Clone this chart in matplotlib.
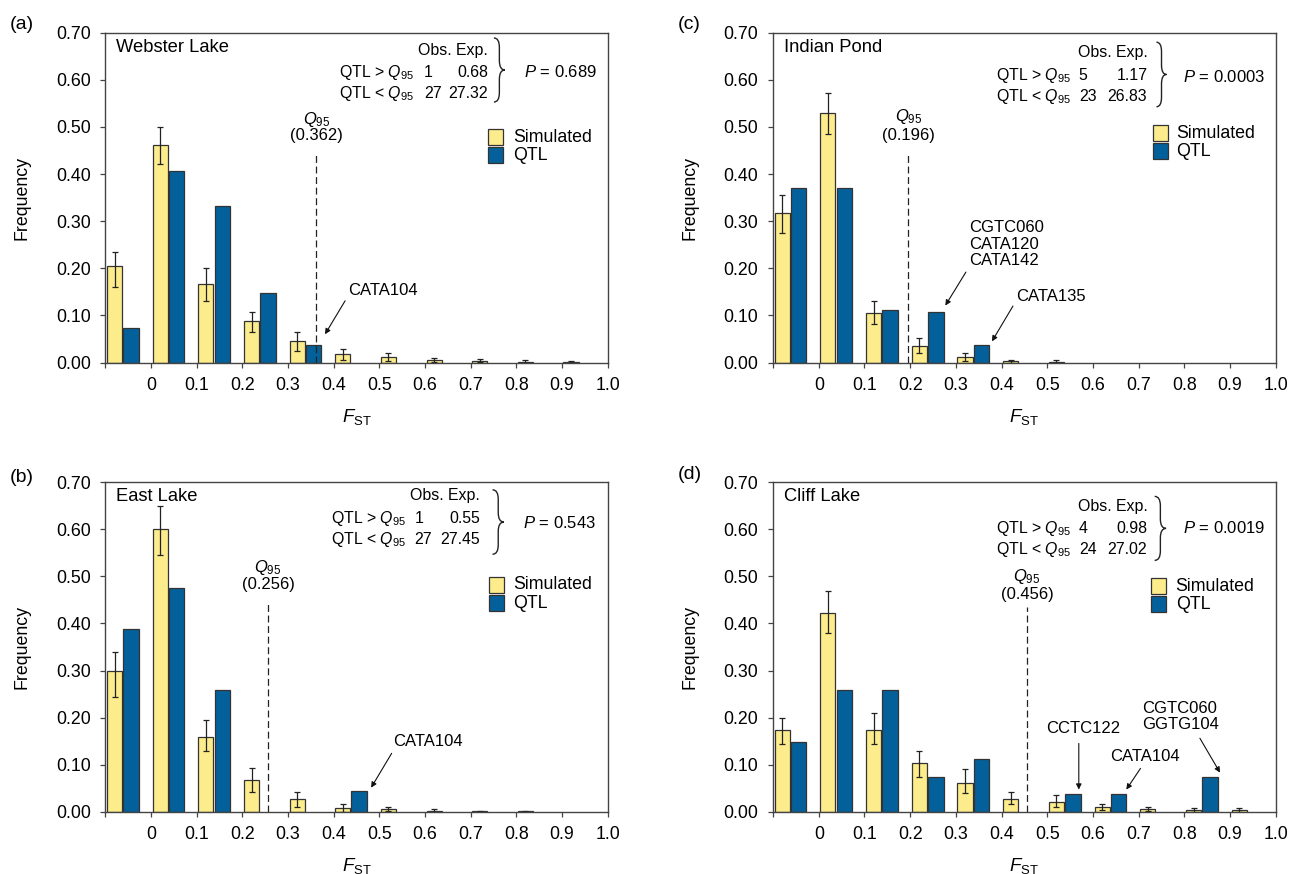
import matplotlib.pyplot as plt
from matplotlib.path import Path
from matplotlib.patches import PathPatch, Rectangle
import numpy as np

plt.rcParams['font.family'] = ['Liberation Sans', 'DejaVu Sans']
plt.rcParams['mathtext.fontset'] = 'custom'
plt.rcParams['mathtext.rm'] = 'Liberation Sans'
plt.rcParams['mathtext.it'] = 'Liberation Sans:italic'
plt.rcParams['font.size'] = 12.5
plt.rcParams['lines.scale_dashes'] = False

# F_ST bins (left edges) and axis ticks
bin_left = [-0.1, 0.0, 0.1, 0.2, 0.3, 0.4, 0.5, 0.6, 0.7, 0.8, 0.9]
xtick_vals = [-0.1, 0.0, 0.1, 0.2, 0.3, 0.4, 0.5, 0.6, 0.7, 0.8, 0.9, 1.0]
xtick_labels = ['', '0', '0.1', '0.2', '0.3', '0.4', '0.5', '0.6', '0.7', '0.8', '0.9', '1.0']
ytick_vals = [0.0, 0.1, 0.2, 0.3, 0.4, 0.5, 0.6, 0.7]
ytick_labels = ['0.00', '0.10', '0.20', '0.30', '0.40', '0.50', '0.60', '0.70']

# (a) Webster Lake
web_sim = [0.204, 0.4625, 0.166, 0.088, 0.045, 0.018, 0.011, 0.005, 0.0035, 0.002, 0.001]
web_hi = [0.234, 0.501, 0.200, 0.108, 0.064, 0.028, 0.020, 0.009, 0.007, 0.005, 0.003]
web_lo = [0.160, 0.422, 0.131, 0.064, 0.024, 0.006, 0.004, 0.0015, 0.001, 0.0, 0.0]
web_qtl = [0.074, 0.407, 0.333, 0.148, 0.037, 0, 0, 0, 0, 0, 0]

# (b) East Lake
east_sim = [0.300, 0.601, 0.159, 0.068, 0.026, 0.0085, 0.005, 0.002, 0.001, 0.0005, 0]
east_hi = [0.339, 0.649, 0.194, 0.092, 0.041, 0.016, 0.011, 0.005, 0.002, 0.001, 0]
east_lo = [0.244, 0.546, 0.129, 0.042, 0.011, 0.0, 0.0015, 0.0, 0.0, 0.0, 0]
east_qtl = [0.389, 0.475, 0.259, 0, 0, 0.043, 0, 0, 0, 0, 0]

# (c) Indian Pond
ind_sim = [0.318, 0.529, 0.105, 0.036, 0.011, 0.003, 0.0015, 0, 0, 0, 0]
ind_hi = [0.355, 0.572, 0.130, 0.052, 0.020, 0.006, 0.005, 0, 0, 0, 0]
ind_lo = [0.275, 0.486, 0.082, 0.020, 0.003, 0.0, 0.0, 0, 0, 0, 0]
ind_qtl = [0.370, 0.370, 0.111, 0.107, 0.037, 0, 0, 0, 0, 0, 0]

# (d) Cliff Lake
cliff_sim = [0.173, 0.422, 0.173, 0.104, 0.060, 0.028, 0.020, 0.009, 0.005, 0.003, 0.003]
cliff_hi = [0.200, 0.469, 0.210, 0.129, 0.090, 0.041, 0.035, 0.016, 0.011, 0.008, 0.007]
cliff_lo = [0.144, 0.380, 0.144, 0.074, 0.040, 0.016, 0.011, 0.0035, 0.0015, 0.0, 0.0]
cliff_qtl = [0.148, 0.259, 0.259, 0.074, 0.111, 0, 0.037, 0.037, 0, 0.074, 0]

# Q95 thresholds and test tables
q95 = {'a': 0.362, 'b': 0.256, 'c': 0.196, 'd': 0.456}
obs = {'a': (1, 27), 'b': (1, 27), 'c': (5, 23), 'd': (4, 24)}
exp = {'a': ('0.68', '27.32'), 'b': ('0.55', '27.45'), 'c': ('1.17', '26.83'), 'd': ('0.98', '27.02')}
pval = {'a': '0.689', 'b': '0.543', 'c': '0.0003', 'd': '0.0019'}
names = {'a': 'Webster Lake', 'b': 'East Lake', 'c': 'Indian Pond', 'd': 'Cliff Lake'}

YELLOW = '#fcec8c'
BLUE = '#03609a'
EDGE = '#333333'
FS = 12.8   # main text size
FT = 11.4   # table text size
FN = 12.0   # annotation text size

panels = {
    'a': dict(sim=web_sim, hi=web_hi, lo=web_lo, qtl=web_qtl, rect=[0.0817, 0.5852, 0.3889, 0.3773],
              tab_x=(0.4116, 0.598, 0.738), tab_y=(0.662, 0.616, 0.572), brace=(0.751, 0.775, 0.553, 0.689),
              p_xy=(0.817, 0.616), leg=(0.738, 0.461, 0.423, 0.793), q_y=(0.515, 0.483, 0.447),
              notes=[('CATA104', (0.431, 0.153), (0.425, 0.131), (0.381, 0.060))]),
    'b': dict(sim=east_sim, hi=east_hi, lo=east_lo, qtl=east_qtl, rect=[0.0817, 0.0713, 0.3889, 0.3769],
              tab_x=(0.394, 0.577, 0.72), tab_y=(0.672, 0.624, 0.578), brace=(0.748, 0.773, 0.547, 0.684),
              p_xy=(0.815, 0.613), leg=(0.740, 0.465, 0.426, 0.793), q_y=(0.519, 0.483, 0.442),
              notes=[('CATA104', (0.530, 0.1485), (0.527, 0.124), (0.482, 0.051))]),
    'c': dict(sim=ind_sim, hi=ind_hi, lo=ind_lo, qtl=ind_qtl, rect=[0.5988, 0.5852, 0.3894, 0.3773],
              tab_x=(0.3885, 0.569, 0.719), tab_y=(0.659, 0.609, 0.565), brace=(0.739, 0.761, 0.543, 0.680),
              p_xy=(0.797, 0.607), leg=(0.732, 0.470, 0.432, 0.783), q_y=(0.523, 0.482, 0.441),
              notes=[('CGTC060\nCATA120\nCATA142', (0.330, 0.251), (0.322, 0.192), (0.277, 0.121)),
                     ('CATA135', (0.432, 0.141), (0.425, 0.120), (0.379, 0.045))]),
    'd': dict(sim=cliff_sim, hi=cliff_hi, lo=cliff_lo, qtl=cliff_qtl, rect=[0.5988, 0.0713, 0.3894, 0.3769],
              tab_x=(0.3885, 0.569, 0.719), tab_y=(0.649, 0.601, 0.557), brace=(0.735, 0.760, 0.534, 0.670),
              p_xy=(0.797, 0.603), leg=(0.727, 0.462, 0.424, 0.781), q_y=(0.499, 0.462, 0.435),
              notes=[('CCTC122', (0.498, 0.177), (0.569, 0.145), (0.569, 0.047)),
                     ('CATA104', (0.637, 0.117), (0.704, 0.092), (0.673, 0.047)),
                     ('CGTC060\nGGTG104', (0.708, 0.202), (0.834, 0.156), (0.878, 0.083))]),
}
label_pos = {'a': (0.0077, 0.9714), 'b': (0.0077, 0.454), 'c': (0.525, 0.9714), 'd': (0.525, 0.457)}


def brace(ax, x0, x1, y0, y1):
    """Right-pointing curly brace between y0 and y1."""
    xm = (x0 + x1) / 2
    ym = (y0 + y1) / 2
    r = 0.02
    verts = [(x0, y1), (xm, y1), (xm, y1 - r),
             (xm, ym + r), (xm, ym), (x1, ym),
             (xm, ym), (xm, ym - r),
             (xm, y0 + r), (xm, y0), (x0, y0)]
    codes = [Path.MOVETO, Path.CURVE3, Path.CURVE3,
             Path.LINETO, Path.CURVE3, Path.CURVE3,
             Path.CURVE3, Path.CURVE3,
             Path.LINETO, Path.CURVE3, Path.CURVE3]
    ax.add_patch(PathPatch(Path(verts, codes), fill=False, lw=1.0, edgecolor='#222222'))


fig = plt.figure(figsize=(12.91, 8.74), dpi=100)

for key, p in panels.items():
    ax = fig.add_axes(p['rect'])
    left = np.array(bin_left)
    sim = np.array(p['sim'])
    qtl = np.array(p['qtl'])
    m = sim > 0
    ax.bar(left[m] + 0.0035, sim[m], 0.033, align='edge', color=YELLOW, edgecolor=EDGE, linewidth=0.9)
    yerr = [sim[m] - np.array(p['lo'])[m], np.array(p['hi'])[m] - sim[m]]
    ax.errorbar(left[m] + 0.02, sim[m], yerr=yerr, fmt='none', ecolor='#222222',
                elinewidth=0.9, capsize=2.2, capthick=0.9)
    mq = qtl > 0
    ax.bar(left[mq] + 0.039, qtl[mq], 0.034, align='edge', color=BLUE, edgecolor=EDGE, linewidth=0.9)

    ax.set_xlim(-0.1, 1.0)
    ax.set_ylim(0, 0.7)
    ax.set_xticks(xtick_vals)
    ax.set_xticklabels(xtick_labels)
    ax.set_yticks(ytick_vals)
    ax.set_yticklabels(ytick_labels)
    ax.tick_params(direction='out', length=3.5, width=0.9, pad=7, labelsize=FS, color='#444444')
    for s in ax.spines.values():
        s.set_color('#444444')
        s.set_linewidth(1.0)

    ax.set_ylabel('Frequency', fontsize=FS, va='center')
    ax.yaxis.set_label_coords(-0.166, 0.5)
    ax.set_xlabel(r'$F_{\mathrm{ST}}$', fontsize=13.5, va='center')
    ax.xaxis.set_label_coords(0.5, -0.164)

    ax.text(-0.076, 0.669, names[key], fontsize=13.2, va='center', ha='left')

    # Q95 threshold
    q = q95[key]
    qy = p['q_y']
    ax.plot([q, q], [0, qy[2]], color='#222222', lw=0.9, dashes=(5, 2.6))
    ax.text(q, qy[0], r'$Q_{\mathrm{95}}$', ha='center', va='center', fontsize=FN)
    ax.text(q, qy[1], '(%.3f)' % q, ha='center', va='center', fontsize=FN)

    # test table
    tx, ty = p['tab_x'], p['tab_y']
    ax.text(tx[2], ty[0], 'Obs. Exp.', ha='right', va='center', fontsize=FT)
    ax.text(tx[0], ty[1], r'QTL > $Q_{\mathrm{95}}$', ha='left', va='center', fontsize=FT)
    ax.text(tx[0], ty[2], r'QTL < $Q_{\mathrm{95}}$', ha='left', va='center', fontsize=FT)
    ax.text(tx[1], ty[1], str(obs[key][0]), ha='left', va='center', fontsize=FT)
    ax.text(tx[1], ty[2], str(obs[key][1]), ha='left', va='center', fontsize=FT)
    ax.text(tx[2], ty[1], exp[key][0], ha='right', va='center', fontsize=FT)
    ax.text(tx[2], ty[2], exp[key][1], ha='right', va='center', fontsize=FT)
    brace(ax, *p['brace'])
    ax.text(p['p_xy'][0], p['p_xy'][1], r'$P$ = ' + pval[key], ha='left', va='center', fontsize=FN)

    # legend
    lx, ly1, ly2, ltx = p['leg']
    ax.add_patch(Rectangle((lx, ly1), 0.033, 0.034, facecolor=YELLOW, edgecolor=EDGE, lw=0.9))
    ax.add_patch(Rectangle((lx, ly2), 0.033, 0.034, facecolor=BLUE, edgecolor=EDGE, lw=0.9))
    ax.text(ltx, ly1 + 0.017, 'Simulated', va='center', ha='left', fontsize=FS)
    ax.text(ltx, ly2 + 0.017, 'QTL', va='center', ha='left', fontsize=FS)

    # locus annotations
    for txt, pos, start, tip in p['notes']:
        ax.text(pos[0], pos[1], txt, ha='left', va='center', fontsize=FN, linespacing=1.12)
        ax.annotate('', xy=tip, xytext=start,
                    arrowprops=dict(arrowstyle='-|>', color='#111111', lw=0.8,
                                    mutation_scale=8, shrinkA=0, shrinkB=0))

    fig.text(label_pos[key][0], label_pos[key][1], '(%s)' % key, fontsize=14, va='center', ha='left')

fig.savefig('out.png', dpi=100)
